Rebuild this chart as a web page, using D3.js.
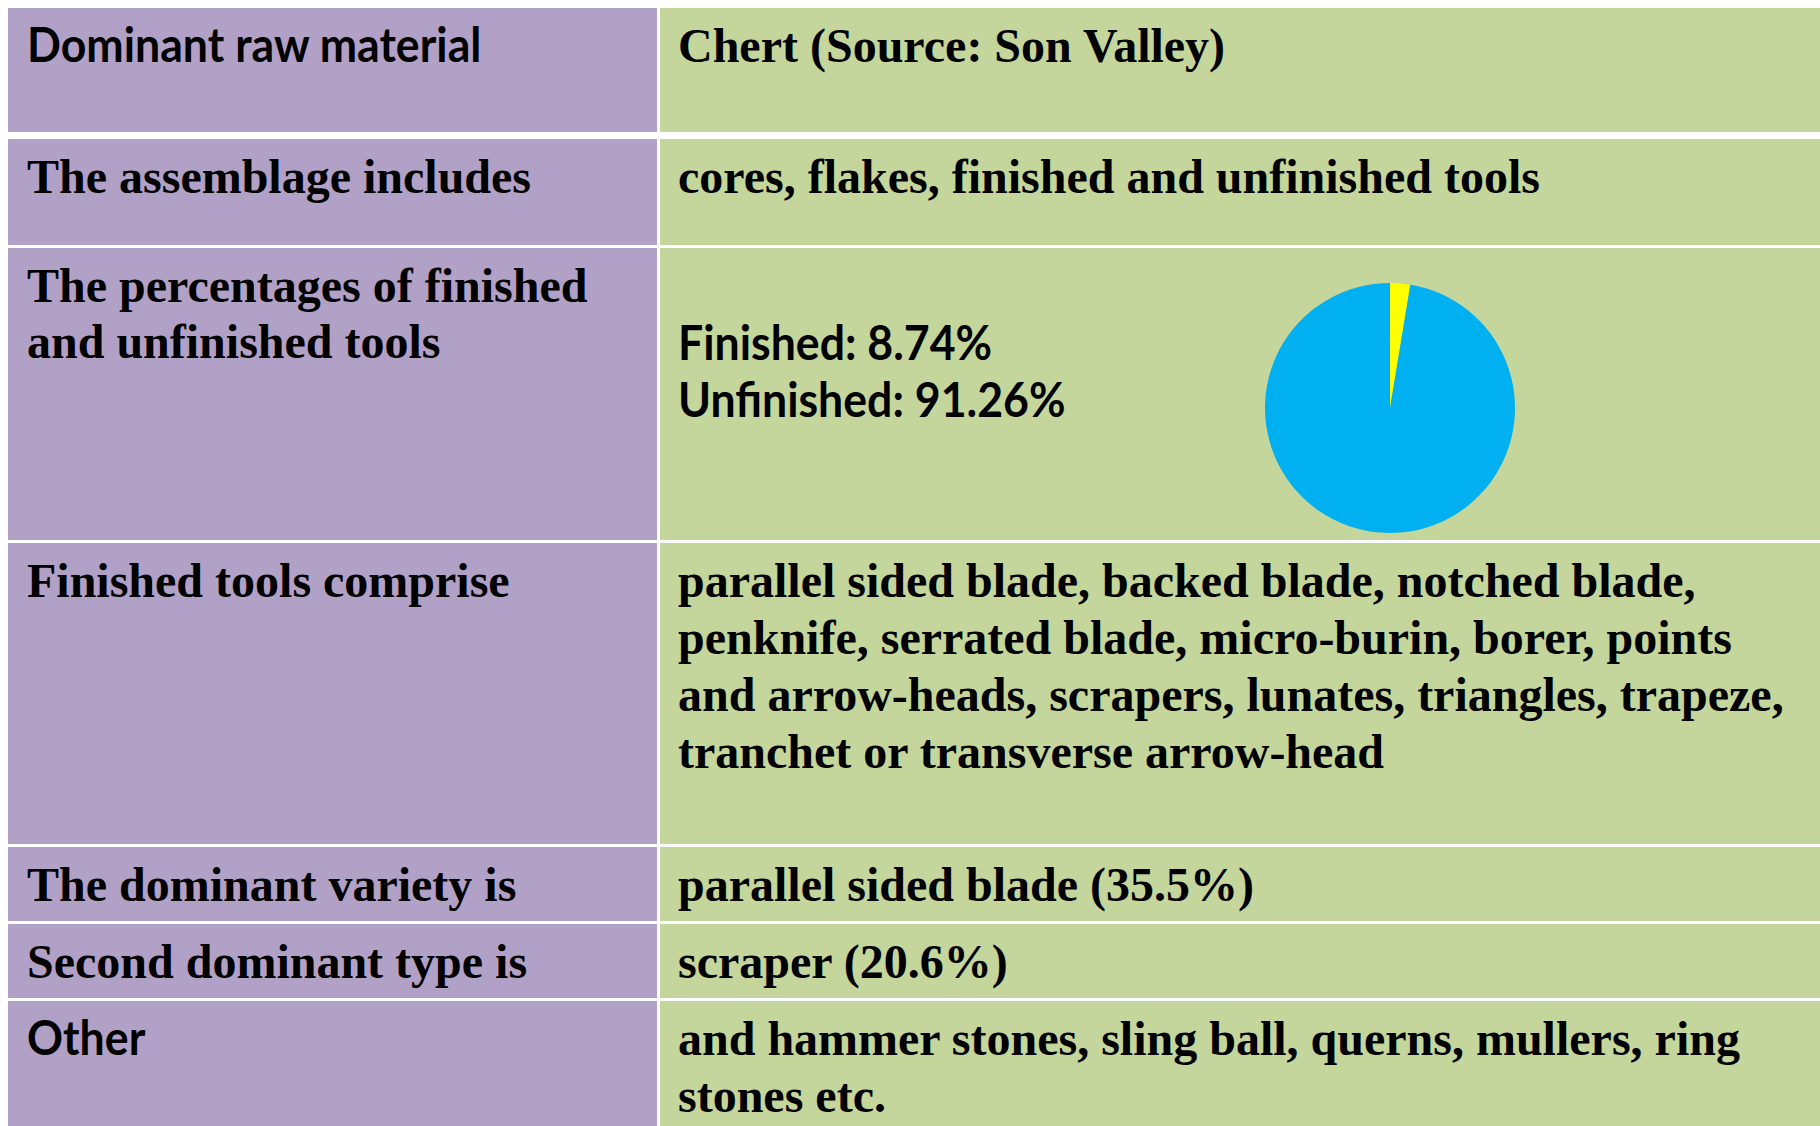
<!DOCTYPE html>
<html>
<head>
<meta charset="utf-8">
<script src="https://cdn.jsdelivr.net/npm/d3@7/dist/d3.min.js"></script>
<style>
  html, body { margin: 0; padding: 0; background: #fff; }
  svg { display: block; }
</style>
</head>
<body>
<div id="chart"></div>
<script>
// row labels (left column), one entry per row, lines as drawn
var rowLabels = [
  ["Dominant raw material"],
  ["The assemblage includes"],
  ["The percentages of finished", "and unfinished tools"],
  ["Finished tools comprise"],
  ["The dominant variety is"],
  ["Second dominant type is"],
  ["Other"]
];

// row values (right column)
var rowValues = [
  ["Chert (Source: Son Valley)"],
  ["cores, flakes, finished and unfinished tools"],
  ["Finished: 8.74%", "Unfinished: 91.26%"],
  ["parallel sided blade, backed blade, notched blade,",
   "penknife, serrated blade, micro-burin, borer, points",
   "and arrow-heads, scrapers, lunates, triangles, trapeze,",
   "tranchet or transverse arrow-head"],
  ["parallel sided blade (35.5%)"],
  ["scraper (20.6%)"],
  ["and hammer stones, sling ball, querns, mullers, ring", "stones etc."]
];

// which rows are set in the sans face (label / value)
var sansLabelRows = [0, 6];
var sansValueRows = [2];

// pie slices as drawn in the picture
var pieCategories = ["Finished", "Unfinished"];
var pieValues = [2.6, 97.4];
var pieColors = ["#FFFF00", "#00B0F0"];

var width = 1820,
    height = 1126;

// layout
var rowTops = [8, 139, 248, 543, 847, 924, 1001],
    rowBottoms = [132, 245, 540, 844, 921, 998, 1130],
    colLeft = 8,
    colSplit = 657,
    colRight = 660,
    padX = 19,
    firstBaseline = 54,
    lineStep = 57;

var purple = "#B2A1C7",
    green = "#C4D69C";

var serif = "'Liberation Serif', 'Times New Roman', serif",
    sans = "Lato, 'Open Sans', sans-serif",
    sansSqueeze = 0.93;

var svg = d3.select("#chart")
  .append("svg")
  .attr("width", width)
  .attr("height", height);

svg.append("rect")
  .attr("width", width)
  .attr("height", height)
  .attr("fill", "#fff");

var rows = svg.selectAll("g.row")
  .data(rowLabels.map(function (label, i) {
    return { label: label, value: rowValues[i], i: i };
  }))
  .enter()
  .append("g")
  .attr("class", "row")
  .attr("transform", function (d) { return "translate(0," + rowTops[d.i] + ")"; });

rows.append("rect")
  .attr("x", colLeft)
  .attr("width", colSplit - colLeft)
  .attr("height", function (d) { return rowBottoms[d.i] - rowTops[d.i]; })
  .attr("fill", purple);

rows.append("rect")
  .attr("x", colRight)
  .attr("width", width - colRight)
  .attr("height", function (d) { return rowBottoms[d.i] - rowTops[d.i]; })
  .attr("fill", green);

function writeLines(sel, getLines, x, isSans, step) {
  sel.each(function (d) {
    var g = d3.select(this),
        useSans = isSans(d),
        lines = getLines(d);

    lines.forEach(function (line, j) {
      var y = firstBaseline + j * step;
      var t = g.append("text")
        .attr("font-family", useSans ? sans : serif)
        .attr("font-weight", "bold")
        .attr("font-size", 48)
        .attr("fill", "#000")
        .text(line);

      if (useSans) {
        t.attr("transform", "translate(" + x + "," + y + ") scale(" + sansSqueeze + ",1)");
      } else {
        t.attr("x", x).attr("y", y);
      }
    });
  });
}

writeLines(rows,
  function (d) { return d.label; },
  colLeft + padX,
  function (d) { return sansLabelRows.indexOf(d.i) >= 0; },
  56);

// the finished / unfinished lines sit lower in their cell
var valueOffsets = [0, 0, 58, 0, 0, 0, 0];

rows.each(function (d) {
  var g = d3.select(this).append("g")
    .attr("transform", "translate(0," + valueOffsets[d.i] + ")");
  g.datum(d);
  writeLines(g,
    function (d) { return d.value; },
    colRight + padX - 1,
    function (d) { return sansValueRows.indexOf(d.i) >= 0; },
    lineStep);
});

// pie of finished vs unfinished tools
var pieCenter = [1390, 408],
    pieRadius = 125;

var pie = d3.pie()
  .sort(null)
  .value(function (d) { return d; });

var arc = d3.arc()
  .innerRadius(0)
  .outerRadius(pieRadius);

var color = d3.scaleOrdinal()
  .domain(pieCategories)
  .range(pieColors);

svg.append("g")
  .attr("transform", "translate(" + pieCenter[0] + "," + pieCenter[1] + ")")
  .selectAll("path")
  .data(pie(pieValues))
  .enter()
  .append("path")
  .attr("d", arc)
  .attr("fill", function (d, i) { return color(pieCategories[i]); });
</script>
</body>
</html>
